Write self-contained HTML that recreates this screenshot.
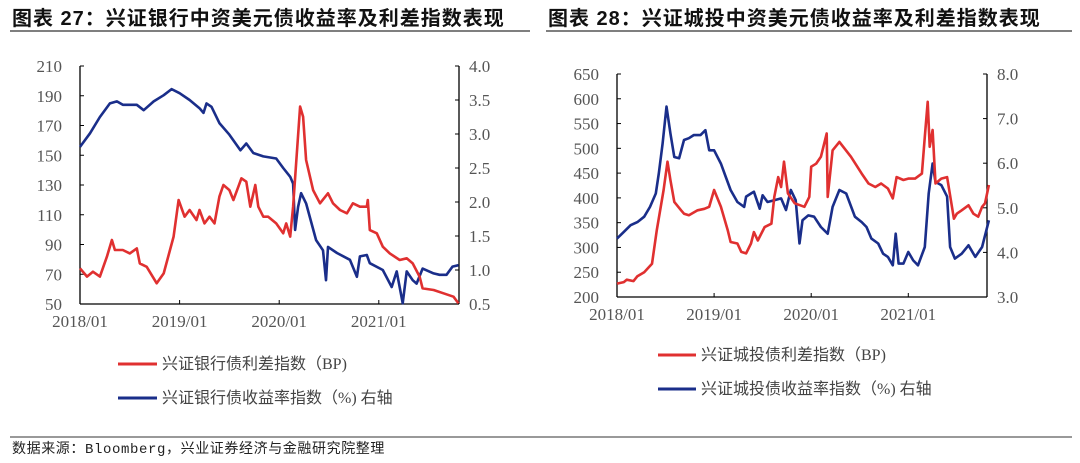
<!DOCTYPE html>
<html><head><meta charset="utf-8">
<style>
html,body{margin:0;padding:0;background:#fff;}
svg{display:block;}
.ttl{font-family:"Liberation Sans","Noto Sans CJK SC",sans-serif;font-weight:bold;font-size:20px;letter-spacing:1px;fill:#111;}
.tk{font-family:"Liberation Serif","Noto Serif CJK SC",serif;font-size:17px;fill:#555;}
.lg{font-family:"Liberation Serif","Noto Sans CJK SC",sans-serif;font-size:16px;fill:#444;}
.src{font-family:"Liberation Mono","Noto Sans CJK SC",monospace;font-size:14px;letter-spacing:0.6px;fill:#222;}
</style></head>
<body>
<svg id="page" width="1080" height="463" viewBox="0 0 1080 463" xmlns="http://www.w3.org/2000/svg">
<text class="ttl" x="12" y="25">图表 27：兴证银行中资美元债收益率及利差指数表现</text>
<line x1="10" y1="31" x2="530" y2="31" stroke="#333" stroke-width="1.2"/>
<text class="ttl" x="548" y="25">图表 28：兴证城投中资美元债收益率及利差指数表现</text>
<line x1="546" y1="31" x2="1072" y2="31" stroke="#333" stroke-width="1.2"/>
<g id="left"></g>
<g id="right"></g>
<line x1="118" y1="364" x2="157" y2="364" stroke="#e03030" stroke-width="3"/>
<text class="lg" x="162" y="369">兴证银行债利差指数（BP)</text>
<line x1="118" y1="398" x2="157" y2="398" stroke="#1a2e8a" stroke-width="3"/>
<text class="lg" x="162" y="403">兴证银行债收益率指数（%) 右轴</text>
<line x1="658" y1="355" x2="696" y2="355" stroke="#e03030" stroke-width="3"/>
<text class="lg" x="701" y="360">兴证城投债利差指数（BP)</text>
<line x1="658" y1="389" x2="696" y2="389" stroke="#1a2e8a" stroke-width="3"/>
<text class="lg" x="701" y="394">兴证城投债收益率指数（%) 右轴</text>
<line x1="10" y1="437" x2="1072" y2="437" stroke="#333" stroke-width="1"/>
<text class="src" x="12" y="453">数据来源：Bloomberg，兴业证券经济与金融研究院整理</text>
</svg>
<script>
const NS="http://www.w3.org/2000/svg";
const xTickLabels=["2018/01","2019/01","2020/01","2021/01"];
const xTickYears=[2018,2019,2020,2021];
// Left chart data
const L_leftTicks=[50,70,90,110,130,150,170,190,210];
const L_rightTicks=["0.5","1.0","1.5","2.0","2.5","3.0","3.5","4.0"];
const L_redT=[2018.00,2018.07,2018.13,2018.20,2018.27,2018.32,2018.35,2018.43,2018.50,2018.57,2018.60,2018.67,2018.77,2018.84,2018.94,2018.99,2019.05,2019.10,2019.17,2019.20,2019.25,2019.30,2019.35,2019.40,2019.44,2019.50,2019.54,2019.59,2019.62,2019.67,2019.71,2019.76,2019.79,2019.84,2019.89,2019.97,2020.04,2020.07,2020.11,2020.14,2020.21,2020.24,2020.27,2020.34,2020.41,2020.49,2020.54,2020.61,2020.68,2020.74,2020.81,2020.88,2020.89,2020.91,2020.98,2021.04,2021.11,2021.21,2021.28,2021.34,2021.41,2021.44,2021.55,2021.65,2021.75,2021.80];
const L_redV=[74,68.4,71.7,68.4,81.8,93,86.3,86.3,84,87.4,77.3,75,63.9,70.6,95.3,119.9,108.7,113.2,106.5,113.2,104.2,108.7,104.2,122.2,130,126.6,119.9,128.9,134.5,132.2,115.4,130,115.4,108.7,108.7,104.2,97.5,104.2,95.3,115.4,182.7,175.9,146.8,126.6,117.7,124.4,117.7,113.2,111,117.7,115.4,115.4,119.9,99.7,97.5,88.5,84,79.6,80.7,77.3,68.4,60.5,59.4,57.2,54.9,50.4];
const L_blueT=[2018.00,2018.10,2018.20,2018.30,2018.37,2018.43,2018.57,2018.64,2018.74,2018.84,2018.92,2019.00,2019.10,2019.20,2019.24,2019.27,2019.32,2019.40,2019.50,2019.61,2019.67,2019.74,2019.84,2019.97,2020.04,2020.11,2020.14,2020.16,2020.19,2020.22,2020.27,2020.37,2020.44,2020.47,2020.49,2020.58,2020.71,2020.78,2020.81,2020.88,2020.91,2021.04,2021.13,2021.18,2021.24,2021.28,2021.34,2021.38,2021.44,2021.55,2021.61,2021.68,2021.74,2021.80];
const L_blueV=[2.81,3.01,3.25,3.45,3.48,3.43,3.43,3.35,3.48,3.57,3.66,3.60,3.50,3.38,3.31,3.45,3.40,3.16,2.99,2.76,2.86,2.72,2.67,2.64,2.50,2.37,2.27,1.59,1.93,2.13,1.98,1.44,1.29,0.85,1.34,1.25,1.15,0.90,1.20,1.22,1.10,1.00,0.75,0.98,0.51,0.98,0.85,0.80,1.02,0.95,0.93,0.93,1.05,1.07];
// Right chart data
const R_leftTicks=[200,250,300,350,400,450,500,550,600,650];
const R_rightTicks=["3.0","4.0","5.0","6.0","7.0","8.0"];
const R_redT=[2018.00,2018.07,2018.10,2018.17,2018.21,2018.28,2018.36,2018.41,2018.48,2018.52,2018.55,2018.59,2018.66,2018.69,2018.74,2018.83,2018.90,2018.95,2019.00,2019.07,2019.14,2019.17,2019.24,2019.28,2019.33,2019.38,2019.41,2019.45,2019.52,2019.59,2019.62,2019.66,2019.69,2019.72,2019.76,2019.83,2019.93,2019.98,2020.00,2020.05,2020.10,2020.16,2020.17,2020.22,2020.29,2020.33,2020.41,2020.52,2020.59,2020.66,2020.72,2020.79,2020.84,2020.88,2020.95,2021.00,2021.07,2021.14,2021.17,2021.20,2021.22,2021.25,2021.28,2021.34,2021.40,2021.47,2021.50,2021.55,2021.62,2021.67,2021.72,2021.76,2021.79,2021.83];
const R_redV=[227,230,235,232,242,250,267,335,416,473,436,392,375,368,365,375,378,382,416,382,335,311,308,291,288,308,331,314,341,348,402,442,422,473,409,389,382,402,463,469,483,530,402,496,513,503,483,449,429,422,429,419,399,442,436,439,439,449,523,594,503,537,429,439,442,358,368,375,385,368,362,382,389,426];
const R_blueT=[2018.00,2018.07,2018.14,2018.21,2018.28,2018.34,2018.40,2018.43,2018.47,2018.51,2018.55,2018.59,2018.64,2018.69,2018.74,2018.79,2018.86,2018.91,2018.95,2019.00,2019.07,2019.12,2019.17,2019.24,2019.31,2019.33,2019.38,2019.41,2019.47,2019.50,2019.55,2019.62,2019.69,2019.74,2019.79,2019.84,2019.88,2019.91,2019.97,2020.03,2020.10,2020.17,2020.22,2020.29,2020.36,2020.45,2020.52,2020.57,2020.62,2020.69,2020.74,2020.79,2020.84,2020.87,2020.90,2020.95,2021.00,2021.05,2021.10,2021.17,2021.21,2021.25,2021.28,2021.34,2021.40,2021.43,2021.48,2021.55,2021.62,2021.69,2021.76,2021.83];
const R_blueV=[4.31,4.46,4.61,4.68,4.80,5.02,5.32,5.77,6.44,7.27,6.67,6.14,6.11,6.52,6.56,6.63,6.63,6.74,6.29,6.29,5.99,5.69,5.40,5.13,5.02,5.25,5.32,5.36,4.98,5.28,5.13,5.17,5.21,4.95,5.40,5.17,4.20,4.72,4.83,4.80,4.57,4.42,5.02,5.40,5.32,4.80,4.68,4.57,4.31,4.20,3.97,3.90,3.71,4.42,3.75,3.75,4.01,3.82,3.71,4.12,5.32,5.99,5.58,5.51,5.25,4.12,3.86,3.97,4.16,3.90,4.12,4.72];

function mk(tag,attrs,parent){const e=document.createElementNS(NS,tag);for(const k in attrs)e.setAttribute(k,attrs[k]);parent.appendChild(e);return e;}

function drawChart(g,cfg){
  const x=t=>cfg.x0+(t-2018)*cfg.yearPx;
  const yl=v=>cfg.yb-(v-cfg.lmin)/(cfg.lmax-cfg.lmin)*(cfg.yb-cfg.yt);
  const yr=v=>cfg.yb-(v-cfg.rmin)/(cfg.rmax-cfg.rmin)*(cfg.yb-cfg.yt);
  let a=mk('line',{x1:cfg.x0,y1:cfg.yt,x2:cfg.x0,y2:cfg.yb,stroke:'#000','stroke-width':1.3},g);
  
  
  a=mk('line',{x1:cfg.x1,y1:cfg.yt,x2:cfg.x1,y2:cfg.yb,stroke:'#000','stroke-width':1.3},g);
  
  
  a=mk('line',{x1:cfg.x0,y1:cfg.yb,x2:cfg.x1,y2:cfg.yb,stroke:'#000','stroke-width':1.3},g);
  
  
  cfg.lt.forEach(v=>{
    const y=yl(v);
    mk('line',{x1:cfg.x0,y1:y,x2:cfg.x0+4,y2:y,stroke:'#000'},g);
    const t=mk('text',{x:cfg.x0-18,y:y+6,'text-anchor':'end',class:'tk'},g);
    t.textContent=v;
    
    
  });
  cfg.rt.forEach(s=>{
    const y=yr(parseFloat(s));
    mk('line',{x1:cfg.x1-4,y1:y,x2:cfg.x1,y2:y,stroke:'#000'},g);
    const t=mk('text',{x:cfg.x1+10,y:y+6,class:'tk'},g);
    t.textContent=s;
    
    
  });
  xTickYears.forEach((yv,i)=>{
    const xx=x(yv);
    mk('line',{x1:xx,y1:cfg.yb,x2:xx,y2:cfg.yb-4,stroke:'#000'},g);
    const t=mk('text',{x:xx,y:cfg.yb+23,'text-anchor':'middle',class:'tk'},g);
    t.textContent=xTickLabels[i];
    
    
  });
  const line=(T,V,sc,color,name)=>{
    const d=T.map((t,i)=>(i?'L':'M')+x(t).toFixed(1)+','+sc(V[i]).toFixed(1)).join('');
    const p=mk('path',{d:d,fill:'none',stroke:color,'stroke-width':2.6,'stroke-linejoin':'round'},g);
    
    
  };
  line(cfg.bt,cfg.bv,yr,'#1a2e8a','yield-line');
  line(cfg.rdt,cfg.rdv,yl,'#e03030','spread-line');
}
drawChart(document.getElementById('left'),{x0:80,x1:459,yearPx:99.6,yt:66,yb:304,lmin:50,lmax:210,rmin:0.5,rmax:4,lt:L_leftTicks,rt:L_rightTicks,rdt:L_redT,rdv:L_redV,bt:L_blueT,bv:L_blueV});
drawChart(document.getElementById('right'),{x0:617,x1:987,yearPx:97.1,yt:74,yb:297,lmin:200,lmax:650,rmin:3,rmax:8,lt:R_leftTicks,rt:R_rightTicks,rdt:R_redT,rdv:R_redV,bt:R_blueT,bv:R_blueV});
</script>
</body></html>
